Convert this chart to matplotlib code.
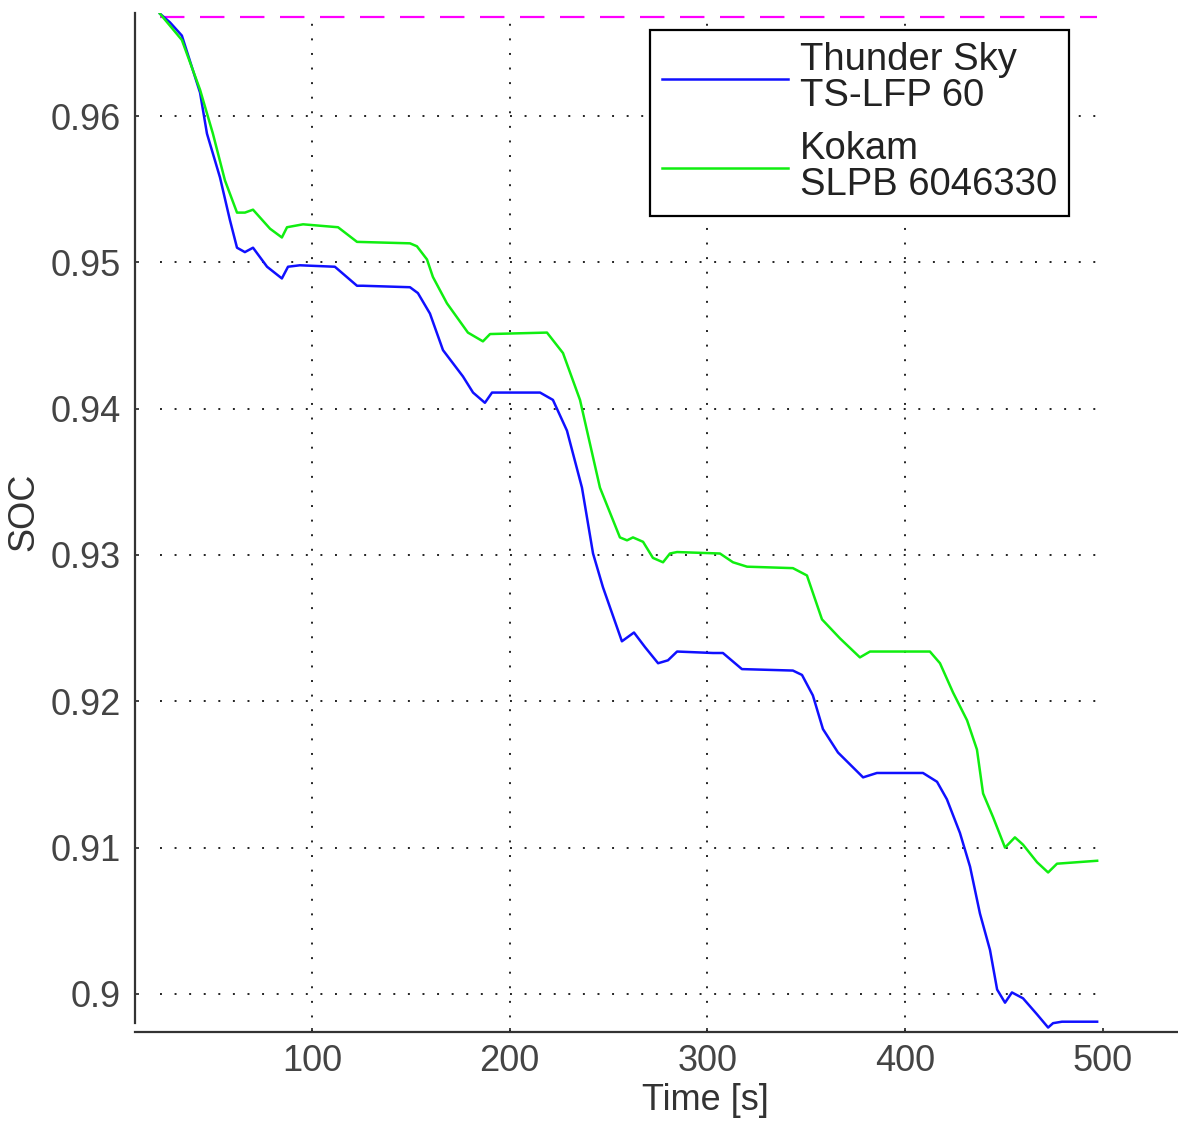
import matplotlib
matplotlib.use("Agg")
import matplotlib.pyplot as plt

plt.rcParams['font.family'] = ['Liberation Sans', 'DejaVu Sans']

# SOC traces (time in s, SOC as fraction)
t_thunder = [23.1, 28.2, 34.2, 43.4, 46.9, 53.5, 58.5, 62.1, 66.1, 70.2, 77.3, 84.8,
             87.9, 93.9, 111.6, 122.8, 125.8, 149.6, 153.6, 159.7, 166.3, 176.4, 181.5,
             187.5, 191.1, 215.4, 221.9, 229.0, 236.6, 242.2, 247.2, 256.8, 262.9, 268.5,
             275.1, 280.1, 284.7, 302.9, 307.9, 317.5, 343.3, 347.9, 353.4, 358.5, 366.1,
             378.8, 385.8, 409.1, 416.2, 421.2, 427.8, 432.9, 437.9, 443.0, 446.6, 450.6,
             454.1, 459.7, 466.8, 472.4, 474.9, 479.4, 497.2]
soc_thunder = [0.9670, 0.9664, 0.9655, 0.9616, 0.9588, 0.9558, 0.9529, 0.9510, 0.9507,
               0.9510, 0.9497, 0.9489, 0.9497, 0.9498, 0.9497, 0.9484, 0.9484, 0.9483,
               0.9479, 0.9465, 0.9440, 0.9422, 0.9411, 0.9404, 0.9411, 0.9411, 0.9406,
               0.9385, 0.9346, 0.9301, 0.9278, 0.9241, 0.9247, 0.9237, 0.9226, 0.9228,
               0.9234, 0.9233, 0.9233, 0.9222, 0.9221, 0.9218, 0.9204, 0.9181, 0.9165,
               0.9148, 0.9151, 0.9151, 0.9145, 0.9133, 0.9110, 0.9087, 0.9055, 0.9030,
               0.9003, 0.8994, 0.9001, 0.8997, 0.8986, 0.8977, 0.8980, 0.8981, 0.8981]

t_kokam = [23.1, 34.2, 43.4, 49.9, 56.0, 62.1, 66.1, 70.2, 78.8, 84.8, 87.4, 95.5,
           113.2, 122.8, 149.6, 153.1, 158.2, 161.2, 168.3, 178.9, 186.5, 190.1, 218.9,
           227.0, 235.6, 245.7, 255.8, 259.4, 262.4, 267.5, 272.5, 277.6, 281.1, 284.7,
           306.4, 313.0, 320.1, 343.3, 350.4, 358.0, 367.1, 377.2, 382.3, 412.6, 417.7,
           424.3, 431.4, 436.4, 439.5, 444.5, 450.6, 455.6, 459.7, 466.8, 472.4, 476.9,
           497.2]
soc_kokam = [0.9670, 0.9652, 0.9618, 0.9588, 0.9556, 0.9534, 0.9534, 0.9536, 0.9523,
             0.9517, 0.9524, 0.9526, 0.9524, 0.9514, 0.9513, 0.9511, 0.9502, 0.9490,
             0.9472, 0.9452, 0.9446, 0.9451, 0.9452, 0.9438, 0.9406, 0.9346, 0.9312,
             0.9310, 0.9312, 0.9309, 0.9298, 0.9295, 0.9301, 0.9302, 0.9301, 0.9295,
             0.9292, 0.9291, 0.9286, 0.9256, 0.9243, 0.9230, 0.9234, 0.9234, 0.9226,
             0.9206, 0.9187, 0.9167, 0.9137, 0.9121, 0.9100, 0.9107, 0.9102, 0.9090,
             0.9083, 0.9089, 0.9091]

soc_start = 0.9668
t_range = [23.1, 497.2]

xticks = [100, 200, 300, 400, 500]
yticks = [0.90, 0.91, 0.92, 0.93, 0.94, 0.95, 0.96]
ytick_labels = ['0.9', '0.91', '0.92', '0.93', '0.94', '0.95', '0.96']
labels = ['Thunder Sky\nTS-LFP 60', 'Kokam\nSLPB 6046330']

fig = plt.figure(figsize=(11.78, 11.24), dpi=100)
ax = fig.add_axes([0.1146, 0.0819, 0.8854, 0.9065])
ax.set_xlim(10.5, 538.1)
ax.set_ylim(0.8974, 0.96704)

# dotted grid only inside the plotted time span
grid_kw = dict(color='#222222', linewidth=1.4, linestyle=(0, (1, 6.5)), zorder=1)
ax.hlines(yticks, t_range[0], t_range[1], **grid_kw)
ax.vlines([v for v in xticks if v < t_range[1]], 0.8974, 0.96704, **grid_kw)

ax.hlines(soc_start, t_range[0], t_range[1], color='#ff00ff', linewidth=1.6,
          linestyles=(0, (11, 7)), zorder=2)

ax.plot(t_thunder, soc_thunder, color='#1010ff', linewidth=1.8, label=labels[0], zorder=3)
ax.plot(t_kokam, soc_kokam, color='#10ee10', linewidth=1.8, label=labels[1], zorder=3)

ax.set_xticks(xticks)
ax.set_yticks(yticks)
ax.set_yticklabels(ytick_labels)
ax.tick_params(direction='in', length=3, width=1.2, labelsize=26, colors='#222222',
               labelcolor='#444444')
ax.tick_params(axis='x', pad=9)
ax.tick_params(axis='y', pad=10)

for s in ['top', 'right']:
    ax.spines[s].set_visible(False)
for s in ['left', 'bottom']:
    ax.spines[s].set_linewidth(1.6)
    ax.spines[s].set_color('#333333')
ax.spines['left'].set_bounds(0.8980, 0.96704)

ax.set_xlabel('Time [s]', fontsize=26, color='#333333')
ax.xaxis.set_label_coords(0.5465, -0.050)
ax.set_ylabel('SOC', fontsize=26, color='#333333')
ax.yaxis.set_label_coords(-0.090, 0.51)

leg = ax.legend(loc='upper left', bbox_to_anchor=(0.4938, 0.9833), borderaxespad=0,
                fontsize=27.5, fancybox=False, framealpha=1, edgecolor='black',
                handlelength=3.3, handletextpad=0.3, borderpad=0.32, labelspacing=0.45)
leg.get_frame().set_linewidth(1.6)
for txt in leg.get_texts():
    txt.set_linespacing(1.0)
    txt.set_color('#222222')

fig.savefig('out.png', dpi=100)
